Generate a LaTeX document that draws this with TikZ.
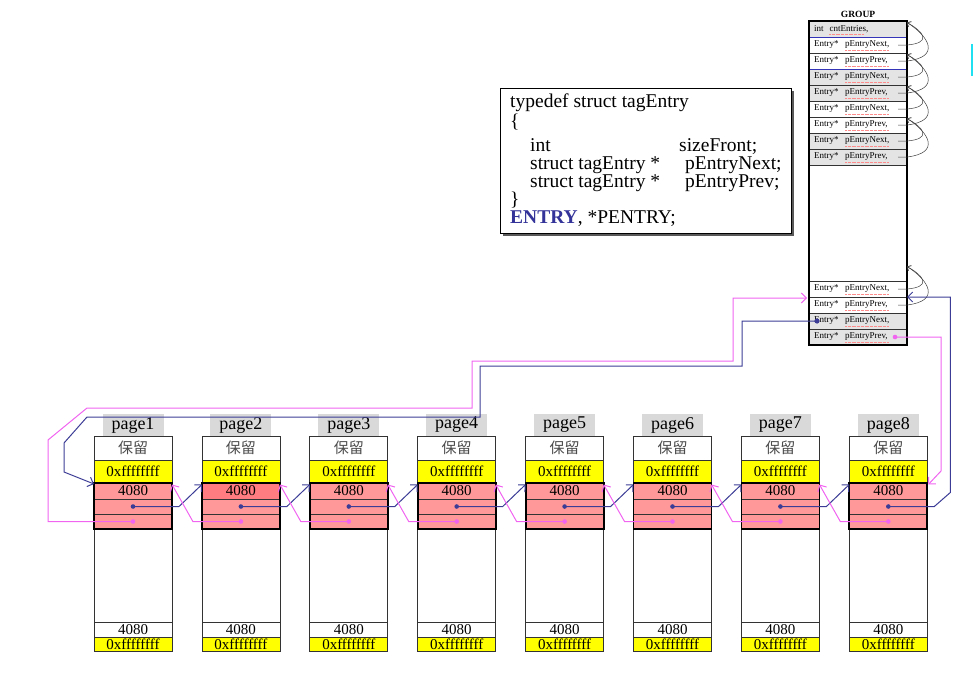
\documentclass[tikz,border=0pt]{standalone}
\usepackage{fontspec}
\setmainfont{Liberation Serif}
\newfontfamily\cjk{Noto Sans CJK SC}
\usetikzlibrary{calc,arrows.meta}
\definecolor{rowpink}{HTML}{FF9999}
\definecolor{sizehot}{HTML}{FF7C80}
\definecolor{sigyellow}{HTML}{FFFF00}
\definecolor{tabgray}{HTML}{D9D9D9}
\definecolor{grprow}{HTML}{E4E4E4}
\definecolor{navy}{HTML}{3C3C96}
\definecolor{linkpink}{HTML}{F064F0}
\definecolor{declblue}{HTML}{333399}
\definecolor{frameblue}{HTML}{3434B8}
\definecolor{marker}{HTML}{1EE0F0}
\tikzset{
  cell/.style={draw=black!80, line width=0.7pt, minimum width=78pt, inner sep=0pt, outer sep=0pt, anchor=north, font=\fontsize{15}{15}\selectfont},
  tab/.style={fill=tabgray, minimum width=61pt, minimum height=22pt, inner sep=0pt, font=\fontsize{18}{18}\selectfont},
  slot/.style={draw=black!80, line width=0.5pt, minimum width=98pt, minimum height=16pt, inner xsep=5pt, inner ysep=0pt, outer sep=0pt, anchor=north west, text width=88pt, align=left, font=\fontsize{9}{9}\selectfont},
  code/.style={anchor=base west, inner sep=0pt, font=\fontsize{19.5}{19.5}\selectfont},
  nextlink/.style={draw=navy, line width=1pt, -{Straight Barb[length=5pt,width=10pt]}},
  prevlink/.style={draw=linkpink, line width=1pt, -{Straight Barb[length=5pt,width=10pt]}},
  selflink/.style={draw=black!75, line width=0.5pt, -{Straight Barb[length=3pt,width=6pt]}},
  squiggle/.style={draw=red!45, densely dotted, line width=0.3pt}
}

\begin{document}
\begin{tikzpicture}[x=1pt,y=-1pt]
\useasboundingbox (0,0) rectangle (973,691);

% declaration box
\fill[black!65] (503,91) rectangle (794,236);
\node[draw=black, fill=white, line width=0.8pt, minimum width=291pt, minimum height=145pt, anchor=north west, inner sep=0pt] (decl) at (500,88) {};
\node[code] (l1) at (510,107) {typedef struct tagEntry};
\node[code] (l2) at (510,127) {\{};
\node[code] (l3) at (530,151) {int};
\node[code] (l3b) at (679,151) {sizeFront;};
\node[code] (l4) at (530,169) {struct tagEntry *};
\node[code] (l4b) at (685,169) {pEntryNext;};
\node[code] (l5) at (530,187) {struct tagEntry *};
\node[code] (l5b) at (685,187) {pEntryPrev;};
\node[code] (l6) at (510,205) {\}};
\node[code] (l7) at (510,223) {\textcolor{declblue}{\bfseries ENTRY}, *PENTRY;};

% group
\node[font=\bfseries\fontsize{9.5}{9.5}\selectfont] (gtitle) at (858,14) {GROUP};
\node[slot, fill=grprow] (g0) at (809,21) {int~~cntEntries,};
\draw[squiggle] ($(g0.west)+(20,5)$) -- ++(34,0);
\foreach \k in {1,...,12}{
  \pgfmathsetmacro\gy{\k<9 ? 21+16*\k : 281+16*(\k-9)}
  \pgfmathtruncatemacro\shade{mod(floor((\k-1)/2),2)}
  \ifodd\k \def\fld{pEntryNext,}\else\def\fld{pEntryPrev,}\fi
  \ifnum\shade=1 \def\rowfill{grprow}\else\def\rowfill{white}\fi
  \node[slot, fill=\rowfill] (g\k) at (809,\gy) {\makebox[31pt][l]{Entry*}\fld};
  \draw[squiggle] ($(g\k.west)+(36,5.5)$) -- ++(44,0);
}
\node[slot, minimum height=116pt] (gbody) at (809,165) {};
\draw[frameblue, line width=0.9pt] (g1.north west) rectangle (g2.south east);
\draw[line width=1.2pt] (g0.north west) rectangle (g12.south east);
\coordinate (gtail) at ($(g9.north east)+(0,-16)$);

% empty list heads point back at themselves
\foreach \n/\p/\t in {1/2/g0.north east, 3/4/g2.north east, 5/6/g4.north east, 7/8/g6.north east, 9/10/gtail}{
  \draw[selflink] ($(g\n.east)+(-9,0)$) -- (g\n.east) .. controls +(24,-2) and +(18,10) .. ($(\t)+(0,1.5)$);
  \draw[selflink] ($(g\p.east)+(-9,0)$) -- (g\p.east) .. controls +(34,-4) and +(22,14) .. ($(\t)+(0,1.5)$);
}

% pages
\foreach \i in {1,...,8}{
  \pgfmathsetmacro\cx{133+(\i-1)*107.9}
  \ifnum\i=2 \def\szfill{sizehot}\else\def\szfill{rowpink}\fi
  \node[tab] (pg\i) at (\cx,425) {page\i};
  \node[cell, minimum height=24pt, font=\cjk\fontsize{15}{15}\selectfont, text=black!70] (res\i) at (\cx,436) {保留};
  \node[cell, minimum height=23pt, fill=sigyellow] (sig\i) at (res\i.south) {0xffffffff};
  \node[cell, minimum height=16pt, fill=\szfill] (sz\i) at (sig\i.south) {4080};
  \node[cell, minimum height=15pt, fill=rowpink] (nx\i) at (sz\i.south) {};
  \node[cell, minimum height=15pt, fill=rowpink] (pv\i) at (nx\i.south) {};
  \node[cell, minimum height=93pt] (body\i) at (pv\i.south) {};
  \node[cell, minimum height=15pt] (tsz\i) at (body\i.south) {4080};
  \node[cell, minimum height=14pt, fill=sigyellow] (tsig\i) at (tsz\i.south) {0xffffffff};
  \draw[line width=1.8pt] (sz\i.north west) rectangle (pv\i.south east);
}

% links between neighbours
\foreach \i/\j in {1/2,2/3,3/4,4/5,5/6,6/7,7/8}{
  \draw[nextlink] (nx\i.center) -- ($(nx\i.east)+(7,0)$) -- ($(sz\j.north west)+(0,1.5)$);
  \fill[navy] (nx\i.center) circle (2.3);
  \draw[prevlink] (pv\j.center) -- ($(pv\j.west)+(-9,0)$) -- ($(sz\i.north east)+(0,1.5)$);
  \fill[linkpink] (pv\j.center) circle (2.3);
}

% links to and from the group
\draw[prevlink] (pv1.center) -| (48,440) -- (87,408) -| (472,361) -| (733,298) -- ($(g10.north west)+(-2,1)$);
\fill[linkpink] (pv1.center) circle (2.3);
\draw[nextlink] ($(g11.west)+(8,0)$) -| (742,366) -| (480,417) -- (87,417) -- (64,443) -- (64,472) -- ($(sz1.north west)+(0,1)$);
\fill[navy] ($(g11.west)+(8,0)$) circle (2.6);
\draw[nextlink] (nx8.center) -- ($(nx8.east)+(7,0)$) -- ++(16,-14) |- (g10.north east);
\fill[navy] (nx8.center) circle (2.3);
\draw[prevlink] ($(g12.east)+(-12,0)$) -- ++(46,0) -- ++(0,134) -- ($(sz8.north east)+(1,1.5)$);
\fill[linkpink] ($(g12.east)+(-12,0)$) circle (2.3);

\fill[marker] (971,44) rectangle (973,76);
\end{tikzpicture}
\end{document}
